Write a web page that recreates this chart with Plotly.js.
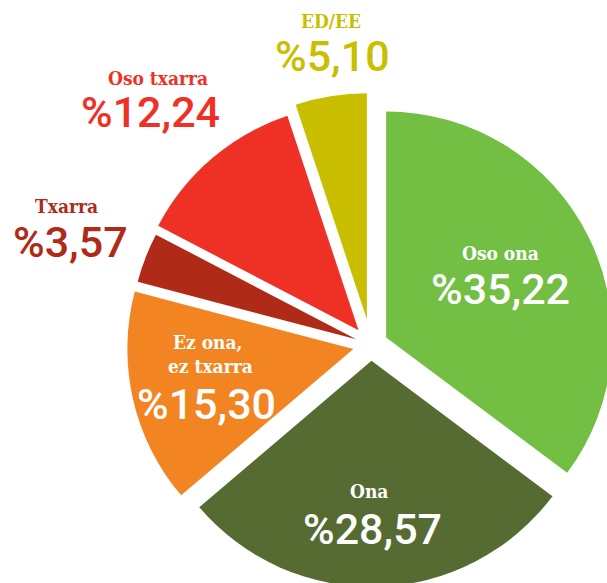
<!DOCTYPE html>
<html>
<head>
<meta charset="utf-8">
<script src="https://cdn.plot.ly/plotly-3.0.1.min.js"></script>
<style>
html,body{margin:0;padding:0;overflow:hidden;background:#fff;width:607px;height:583px;}
#chart{width:623px;height:597px;}
</style>
</head>
<body>
<div id="chart"></div>
<script>
// Data
var categories = ["Oso ona", "Ona", "Ez ona, ez txarra", "Txarra", "Oso txarra", "ED/EE"];
var values = [35.22, 28.57, 15.30, 3.57, 12.24, 5.10];
var colors = ["#72BF44", "#566B32", "#F28522", "#AF2A17", "#EE3124", "#CABE00"];
var pulls = [0.075, 0.07, 0.08, 0.07, 0.085, 0.115];

function fmt(v) { return "%" + v.toFixed(2).replace(".", ","); }

var W = 623, H = 597, L = 119, T = 93, PW = 504, PH = 504;
function px(x) { return (x - L) / PW; }
function py(y) { return 1 - (y - T) / PH; }

var NAME_FONT = "DejaVu Serif Condensed, DejaVu Serif", NAME_SIZE = 19, NAME_DESC = 0.236;
var VAL_FONT = "Roboto", VAL_SIZE = 43, VAL_DESC = 0.244;

// text baselines (x centre, baseline y) in pixels
var nameLines = [
  [[500, 261, "Oso ona"]],
  [[369, 499, "Ona"]],
  [[207.5, 350, "Ez ona,"], [210, 373.5, "ez txarra"]],
  [[66, 214, "Txarra"]],
  [[158, 86, "Oso txarra"]],
  [[331, 28.5, "ED/EE"]]
];
var valuePos = [[500, 305], [372.5, 544.5], [206, 420], [70, 257.5], [150, 127.5], [332.5, 72]];
var textColors = ["#ffffff", "#ffffff", "#ffffff", "#AF2A17", "#EE3124", "#CABE00"];

var annotations = [];
for (var i = 0; i < categories.length; i++) {
  nameLines[i].forEach(function (ln) {
    annotations.push({
      text: ln[2], xref: "paper", yref: "paper",
      x: px(ln[0]), y: py(ln[1] + NAME_DESC * NAME_SIZE),
      xanchor: "center", yanchor: "bottom", borderpad: 0,
      showarrow: false,
      font: {family: NAME_FONT, size: NAME_SIZE, color: textColors[i], weight: 700}
    });
  });
  annotations.push({
    text: fmt(values[i]), xref: "paper", yref: "paper",
    x: px(valuePos[i][0]), y: py(valuePos[i][1] + VAL_DESC * VAL_SIZE),
    xanchor: "center", yanchor: "bottom", borderpad: 0,
    showarrow: false,
    font: {family: VAL_FONT, size: VAL_SIZE, color: textColors[i], weight: 500}
  });
}

var trace = {
  type: "pie",
  labels: categories,
  values: values,
  sort: false,
  direction: "clockwise",
  rotation: 0,
  pull: pulls,
  marker: {colors: colors, line: {width: 0}},
  textinfo: "none",
  hoverinfo: "none",
  showlegend: false,
  domain: {x: [0, 1], y: [0, 1]}
};

var layout = {
  width: W, height: H,
  margin: {l: L, r: W - L - PW, t: T, b: H - T - PH, pad: 0},
  paper_bgcolor: "#ffffff",
  showlegend: false,
  annotations: annotations
};

Plotly.newPlot("chart", [trace], layout, {displayModeBar: false, staticPlot: true});
</script>
</body>
</html>
